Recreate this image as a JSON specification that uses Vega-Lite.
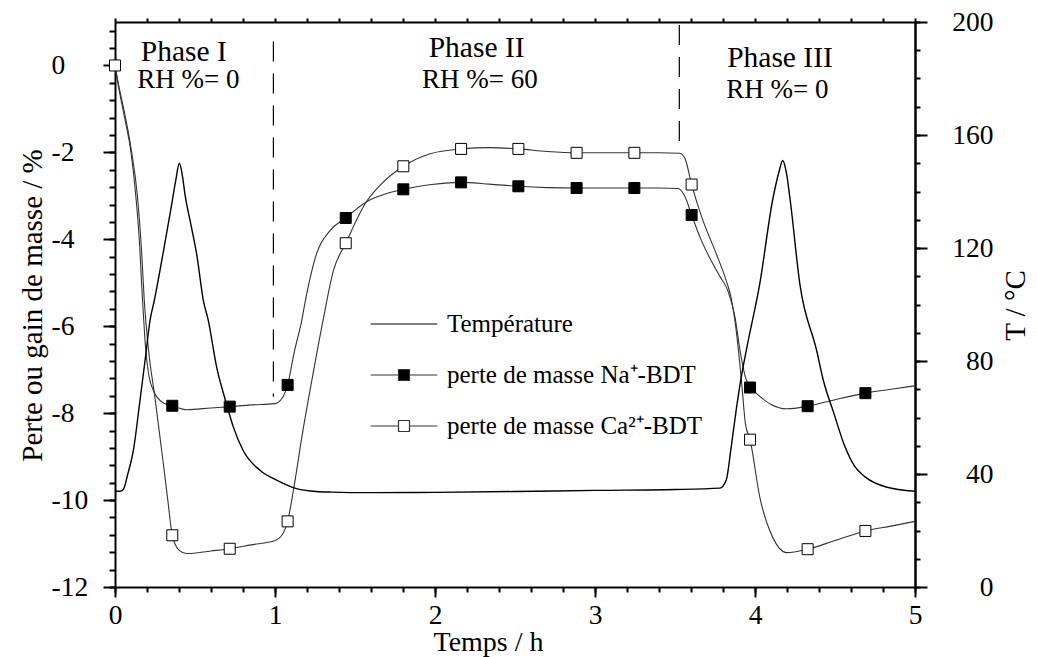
{
  "$schema": "https://vega.github.io/schema/vega-lite/v6.json",
  "width": 800,
  "height": 565,
  "autosize": "none",
  "padding": {"left": 115, "top": 22, "right": 122, "bottom": 70},
  "background": "white",
  "datasets": {
    "mass": [
      {"series":"perte de masse Na⁺-BDT","t":0,"m":0},{"series":"perte de masse Na⁺-BDT","t":0.02,"m":-0.45},{"series":"perte de masse Na⁺-BDT","t":0.06,"m":-1.2},{"series":"perte de masse Na⁺-BDT","t":0.10,"m":-2.0},{"series":"perte de masse Na⁺-BDT","t":0.13,"m":-3.0},{"series":"perte de masse Na⁺-BDT","t":0.155,"m":-4.2},{"series":"perte de masse Na⁺-BDT","t":0.166,"m":-5.0},{"series":"perte de masse Na⁺-BDT","t":0.177,"m":-5.7},{"series":"perte de masse Na⁺-BDT","t":0.19,"m":-6.45},{"series":"perte de masse Na⁺-BDT","t":0.21,"m":-7.1},{"series":"perte de masse Na⁺-BDT","t":0.24,"m":-7.48},{"series":"perte de masse Na⁺-BDT","t":0.30,"m":-7.76},{"series":"perte de masse Na⁺-BDT","t":0.358,"m":-7.83},{"series":"perte de masse Na⁺-BDT","t":0.45,"m":-7.92},{"series":"perte de masse Na⁺-BDT","t":0.6,"m":-7.88},{"series":"perte de masse Na⁺-BDT","t":0.717,"m":-7.85},{"series":"perte de masse Na⁺-BDT","t":0.85,"m":-7.81},{"series":"perte de masse Na⁺-BDT","t":1.0,"m":-7.78},{"series":"perte de masse Na⁺-BDT","t":1.04,"m":-7.68},{"series":"perte de masse Na⁺-BDT","t":1.079,"m":-7.35},{"series":"perte de masse Na⁺-BDT","t":1.12,"m":-6.6},{"series":"perte de masse Na⁺-BDT","t":1.167,"m":-5.87},{"series":"perte de masse Na⁺-BDT","t":1.19,"m":-5.41},{"series":"perte de masse Na⁺-BDT","t":1.26,"m":-4.33},{"series":"perte de masse Na⁺-BDT","t":1.344,"m":-3.8},{"series":"perte de masse Na⁺-BDT","t":1.442,"m":-3.51},{"series":"perte de masse Na⁺-BDT","t":1.57,"m":-3.14},{"series":"perte de masse Na⁺-BDT","t":1.68,"m":-2.97},{"series":"perte de masse Na⁺-BDT","t":1.802,"m":-2.85},{"series":"perte de masse Na⁺-BDT","t":1.98,"m":-2.74},{"series":"perte de masse Na⁺-BDT","t":2.163,"m":-2.69},{"series":"perte de masse Na⁺-BDT","t":2.34,"m":-2.73},{"series":"perte de masse Na⁺-BDT","t":2.521,"m":-2.78},{"series":"perte de masse Na⁺-BDT","t":2.7,"m":-2.81},{"series":"perte de masse Na⁺-BDT","t":2.885,"m":-2.82},{"series":"perte de masse Na⁺-BDT","t":3.06,"m":-2.82},{"series":"perte de masse Na⁺-BDT","t":3.246,"m":-2.82},{"series":"perte de masse Na⁺-BDT","t":3.4,"m":-2.82},{"series":"perte de masse Na⁺-BDT","t":3.52,"m":-2.83},{"series":"perte de masse Na⁺-BDT","t":3.56,"m":-3.0},{"series":"perte de masse Na⁺-BDT","t":3.604,"m":-3.44},{"series":"perte de masse Na⁺-BDT","t":3.656,"m":-3.95},{"series":"perte de masse Na⁺-BDT","t":3.72,"m":-4.45},{"series":"perte de masse Na⁺-BDT","t":3.78,"m":-4.85},{"series":"perte de masse Na⁺-BDT","t":3.83,"m":-5.18},{"series":"perte de masse Na⁺-BDT","t":3.875,"m":-5.79},{"series":"perte de masse Na⁺-BDT","t":3.906,"m":-6.55},{"series":"perte de masse Na⁺-BDT","t":3.94,"m":-7.17},{"series":"perte de masse Na⁺-BDT","t":3.969,"m":-7.41},{"series":"perte de masse Na⁺-BDT","t":4.01,"m":-7.55},{"series":"perte de masse Na⁺-BDT","t":4.1,"m":-7.8},{"series":"perte de masse Na⁺-BDT","t":4.198,"m":-7.9},{"series":"perte de masse Na⁺-BDT","t":4.329,"m":-7.84},{"series":"perte de masse Na⁺-BDT","t":4.5,"m":-7.69},{"series":"perte de masse Na⁺-BDT","t":4.69,"m":-7.54},{"series":"perte de masse Na⁺-BDT","t":4.85,"m":-7.45},{"series":"perte de masse Na⁺-BDT","t":5.0,"m":-7.37},
      {"series":"perte de masse Ca²⁺-BDT","t":0,"m":0},{"series":"perte de masse Ca²⁺-BDT","t":0.02,"m":-0.4},{"series":"perte de masse Ca²⁺-BDT","t":0.06,"m":-1.1},{"series":"perte de masse Ca²⁺-BDT","t":0.10,"m":-1.9},{"series":"perte de masse Ca²⁺-BDT","t":0.14,"m":-3.0},{"series":"perte de masse Ca²⁺-BDT","t":0.165,"m":-4.2},{"series":"perte de masse Ca²⁺-BDT","t":0.183,"m":-5.41},{"series":"perte de masse Ca²⁺-BDT","t":0.21,"m":-6.56},{"series":"perte de masse Ca²⁺-BDT","t":0.25,"m":-7.65},{"series":"perte de masse Ca²⁺-BDT","t":0.30,"m":-9.1},{"series":"perte de masse Ca²⁺-BDT","t":0.33,"m":-10.0},{"series":"perte de masse Ca²⁺-BDT","t":0.358,"m":-10.81},{"series":"perte de masse Ca²⁺-BDT","t":0.40,"m":-11.15},{"series":"perte de masse Ca²⁺-BDT","t":0.448,"m":-11.23},{"series":"perte de masse Ca²⁺-BDT","t":0.6,"m":-11.17},{"series":"perte de masse Ca²⁺-BDT","t":0.717,"m":-11.12},{"series":"perte de masse Ca²⁺-BDT","t":0.85,"m":-11.03},{"series":"perte de masse Ca²⁺-BDT","t":1.0,"m":-10.93},{"series":"perte de masse Ca²⁺-BDT","t":1.05,"m":-10.77},{"series":"perte de masse Ca²⁺-BDT","t":1.079,"m":-10.49},{"series":"perte de masse Ca²⁺-BDT","t":1.115,"m":-9.78},{"series":"perte de masse Ca²⁺-BDT","t":1.17,"m":-8.5},{"series":"perte de masse Ca²⁺-BDT","t":1.23,"m":-7.25},{"series":"perte de masse Ca²⁺-BDT","t":1.30,"m":-5.87},{"series":"perte de masse Ca²⁺-BDT","t":1.365,"m":-4.72},{"series":"perte de masse Ca²⁺-BDT","t":1.442,"m":-4.09},{"series":"perte de masse Ca²⁺-BDT","t":1.57,"m":-3.14},{"series":"perte de masse Ca²⁺-BDT","t":1.656,"m":-2.76},{"series":"perte de masse Ca²⁺-BDT","t":1.802,"m":-2.32},{"series":"perte de masse Ca²⁺-BDT","t":1.97,"m":-2.03},{"series":"perte de masse Ca²⁺-BDT","t":2.163,"m":-1.92},{"series":"perte de masse Ca²⁺-BDT","t":2.34,"m":-1.89},{"series":"perte de masse Ca²⁺-BDT","t":2.521,"m":-1.92},{"series":"perte de masse Ca²⁺-BDT","t":2.7,"m":-1.98},{"series":"perte de masse Ca²⁺-BDT","t":2.885,"m":-2.01},{"series":"perte de masse Ca²⁺-BDT","t":3.06,"m":-2.01},{"series":"perte de masse Ca²⁺-BDT","t":3.246,"m":-2.01},{"series":"perte de masse Ca²⁺-BDT","t":3.4,"m":-2.01},{"series":"perte de masse Ca²⁺-BDT","t":3.527,"m":-2.02},{"series":"perte de masse Ca²⁺-BDT","t":3.56,"m":-2.12},{"series":"perte de masse Ca²⁺-BDT","t":3.604,"m":-2.74},{"series":"perte de masse Ca²⁺-BDT","t":3.667,"m":-3.49},{"series":"perte de masse Ca²⁺-BDT","t":3.75,"m":-4.26},{"series":"perte de masse Ca²⁺-BDT","t":3.82,"m":-4.95},{"series":"perte de masse Ca²⁺-BDT","t":3.85,"m":-5.33},{"series":"perte de masse Ca²⁺-BDT","t":3.885,"m":-6.17},{"series":"perte de masse Ca²⁺-BDT","t":3.917,"m":-7.32},{"series":"perte de masse Ca²⁺-BDT","t":3.94,"m":-8.24},{"series":"perte de masse Ca²⁺-BDT","t":3.969,"m":-8.61},{"series":"perte de masse Ca²⁺-BDT","t":4.03,"m":-9.93},{"series":"perte de masse Ca²⁺-BDT","t":4.11,"m":-10.85},{"series":"perte de masse Ca²⁺-BDT","t":4.198,"m":-11.21},{"series":"perte de masse Ca²⁺-BDT","t":4.329,"m":-11.13},{"series":"perte de masse Ca²⁺-BDT","t":4.5,"m":-10.93},{"series":"perte de masse Ca²⁺-BDT","t":4.69,"m":-10.71},{"series":"perte de masse Ca²⁺-BDT","t":4.85,"m":-10.6},{"series":"perte de masse Ca²⁺-BDT","t":5.0,"m":-10.49}
    ],
    "markers": [
      {"series":"perte de masse Na⁺-BDT","t":0.358,"m":-7.83},{"series":"perte de masse Na⁺-BDT","t":0.717,"m":-7.85},{"series":"perte de masse Na⁺-BDT","t":1.079,"m":-7.35},{"series":"perte de masse Na⁺-BDT","t":1.442,"m":-3.51},{"series":"perte de masse Na⁺-BDT","t":1.802,"m":-2.85},{"series":"perte de masse Na⁺-BDT","t":2.163,"m":-2.69},{"series":"perte de masse Na⁺-BDT","t":2.521,"m":-2.78},{"series":"perte de masse Na⁺-BDT","t":2.885,"m":-2.82},{"series":"perte de masse Na⁺-BDT","t":3.246,"m":-2.82},{"series":"perte de masse Na⁺-BDT","t":3.604,"m":-3.44},{"series":"perte de masse Na⁺-BDT","t":3.969,"m":-7.41},{"series":"perte de masse Na⁺-BDT","t":4.329,"m":-7.84},{"series":"perte de masse Na⁺-BDT","t":4.69,"m":-7.54},
      {"series":"perte de masse Ca²⁺-BDT","t":0,"m":0},{"series":"perte de masse Ca²⁺-BDT","t":0.358,"m":-10.81},{"series":"perte de masse Ca²⁺-BDT","t":0.717,"m":-11.12},{"series":"perte de masse Ca²⁺-BDT","t":1.079,"m":-10.49},{"series":"perte de masse Ca²⁺-BDT","t":1.442,"m":-4.09},{"series":"perte de masse Ca²⁺-BDT","t":1.802,"m":-2.32},{"series":"perte de masse Ca²⁺-BDT","t":2.163,"m":-1.92},{"series":"perte de masse Ca²⁺-BDT","t":2.521,"m":-1.92},{"series":"perte de masse Ca²⁺-BDT","t":2.885,"m":-2.01},{"series":"perte de masse Ca²⁺-BDT","t":3.246,"m":-2.01},{"series":"perte de masse Ca²⁺-BDT","t":3.604,"m":-2.74},{"series":"perte de masse Ca²⁺-BDT","t":3.969,"m":-8.61},{"series":"perte de masse Ca²⁺-BDT","t":4.329,"m":-11.13},{"series":"perte de masse Ca²⁺-BDT","t":4.69,"m":-10.71}
    ],
    "temp": [
      {"t":0,"T":33.9},{"t":0.03,"T":33.9},{"t":0.052,"T":34.5},{"t":0.08,"T":40},{"t":0.115,"T":48.4},{"t":0.156,"T":66},{"t":0.1875,"T":80},{"t":0.219,"T":94.4},{"t":0.246,"T":101.5},{"t":0.30,"T":118},{"t":0.35,"T":134},{"t":0.38,"T":144},{"t":0.402,"T":150},{"t":0.42,"T":146},{"t":0.44,"T":138},{"t":0.469,"T":129.8},{"t":0.49,"T":123.9},{"t":0.51,"T":118},{"t":0.552,"T":101.5},{"t":0.583,"T":94.4},{"t":0.635,"T":77.9},{"t":0.69,"T":66.1},{"t":0.74,"T":56.6},{"t":0.80,"T":48.4},{"t":0.906,"T":41.3},{"t":1.01,"T":37.8},{"t":1.135,"T":34.8},{"t":1.22,"T":34.0},{"t":1.35,"T":33.6},{"t":1.6,"T":33.4},{"t":2.0,"T":33.5},{"t":2.5,"T":33.8},{"t":3.0,"T":34.2},{"t":3.5,"T":34.5},{"t":3.78,"T":35.0},{"t":3.82,"T":37.8},{"t":3.85,"T":49},{"t":3.885,"T":63.7},{"t":3.91,"T":73},{"t":3.95,"T":85},{"t":4.03,"T":107.4},{"t":4.11,"T":136.9},{"t":4.15,"T":147},{"t":4.173,"T":151},{"t":4.195,"T":147},{"t":4.22,"T":136.9},{"t":4.28,"T":107.4},{"t":4.385,"T":83.8},{"t":4.427,"T":73.2},{"t":4.49,"T":62},{"t":4.56,"T":50},{"t":4.62,"T":43},{"t":4.69,"T":38.9},{"t":4.82,"T":35.4},{"t":5.0,"T":33.9}
    ],
    "phases": [
      {"t":0.99,"m1":0.55,"m2":-7.62},
      {"t":3.527,"m1":0.93,"m2":-1.83}
    ],
    "labels": [
      {"kind":"phase","t":0.43,"m":0.11,"text":"Phase I"},
      {"kind":"rh","t":0.458,"m":-0.52,"text":"RH %= 0"},
      {"kind":"phase","t":2.26,"m":0.2,"text":"Phase II"},
      {"kind":"rh","t":2.28,"m":-0.52,"text":"RH %= 60"},
      {"kind":"phase","t":4.156,"m":-0.03,"text":"Phase III"},
      {"kind":"rh","t":4.14,"m":-0.75,"text":"RH %= 0"}
    ]
  },
  "resolve": {"scale": {"y": "independent"}, "axis": {"x": "independent", "y": "independent"}},
  "layer": [
    {
      "data": {"name": "phases"},
      "mark": {"type": "rule", "strokeDash": [20, 12], "strokeWidth": 1.2, "color": "black"},
      "encoding": {
        "x": {"field": "t", "type": "quantitative", "scale": {"domain": [0, 5], "nice": false, "zero": false},
          "axis": {"orient": "bottom", "values": [0,1,2,3,4,5], "tickSize": 10, "labelPadding": 4, "labelExpr": "datum.value + ''",
            "title": "Temps / h", "titleFontSize": 28, "titleX": 373, "titleY": 63, "titleAlign": "center", "titleBaseline": "alphabetic", "titleAnchor": null}},
        "y": {"field": "m1", "type": "quantitative", "scale": {"domain": [-12, 1], "nice": false, "zero": false},
          "axis": {"orient": "left", "values": [-12,-10,-8,-6,-4,-2,0], "tickSize": 12, "labelAlign": "left", "labelPadding": 52, "labelBaseline": "middle", "labelExpr": "datum.value + ''",
            "title": "Perte ou gain de masse / %", "titleX": -83, "titleY": 283, "titleAngle": 270, "titleAlign": "center", "titleBaseline": "middle", "titleAnchor": null}},
        "y2": {"field": "m2"}
      }
    },
    {
      "data": {"name": "mass"},
      "mark": {"type": "line", "interpolate": "monotone", "stroke": "#333333", "strokeWidth": 1.1},
      "encoding": {
        "x": {"field": "t", "type": "quantitative", "scale": {"domain": [0, 5], "nice": false, "zero": false},
          "axis": {"orient": "bottom", "values": [0,0.2,0.4,0.6,0.8,1,1.2,1.4,1.6,1.8,2,2.2,2.4,2.6,2.8,3,3.2,3.4,3.6,3.8,4,4.2,4.4,4.6,4.8,5], "tickSize": 5, "labels": false, "domain": false, "title": null}},
        "y": {"field": "m", "type": "quantitative", "scale": {"domain": [-12, 1], "nice": false, "zero": false},
          "axis": {"orient": "left", "values": [-12,-11.6,-11.2,-10.8,-10.4,-10,-9.6,-9.2,-8.8,-8.4,-8,-7.6,-7.2,-6.8,-6.4,-6,-5.6,-5.2,-4.8,-4.4,-4,-3.6,-3.2,-2.8,-2.4,-2,-1.6,-1.2,-0.8,-0.4,0,0.4,0.8], "tickSize": 6, "labels": false, "domain": false, "title": null}},
        "detail": {"field": "series", "type": "nominal"}
      }
    },
    {
      "data": {"name": "markers"},
      "transform": [{"filter": "indexof(datum.series, 'Na') >= 0"}],
      "mark": {"type": "point", "shape": "square", "size": 121, "filled": true, "fill": "black", "stroke": "black", "strokeWidth": 1, "opacity": 1},
      "encoding": {
        "x": {"field": "t", "type": "quantitative", "scale": {"domain": [0, 5], "nice": false, "zero": false},
          "axis": {"orient": "top", "values": [0,0.2,0.4,0.6,0.8,1,1.2,1.4,1.6,1.8,2,2.2,2.4,2.6,2.8,3,3.2,3.4,3.6,3.8,4,4.2,4.4,4.6,4.8,5], "tickSize": 4, "labels": false, "domain": true, "title": null}},
        "y": {"field": "m", "type": "quantitative", "scale": {"domain": [-12, 1], "nice": false, "zero": false}, "axis": null}
      }
    },
    {
      "data": {"name": "markers"},
      "transform": [{"filter": "indexof(datum.series, 'Ca') >= 0"}],
      "mark": {"type": "point", "shape": "square", "size": 121, "filled": true, "fill": "white", "stroke": "black", "strokeWidth": 1, "opacity": 1},
      "encoding": {
        "x": {"field": "t", "type": "quantitative", "scale": {"domain": [0, 5], "nice": false, "zero": false}, "axis": null},
        "y": {"field": "m", "type": "quantitative", "scale": {"domain": [-12, 1], "nice": false, "zero": false}, "axis": null}
      }
    },
    {
      "data": {"name": "temp"},
      "mark": {"type": "line", "interpolate": "monotone", "stroke": "black", "strokeWidth": 1.4},
      "encoding": {
        "x": {"field": "t", "type": "quantitative", "scale": {"domain": [0, 5], "nice": false, "zero": false}, "axis": null},
        "y": {"field": "T", "type": "quantitative", "scale": {"domain": [0, 200], "nice": false, "zero": false},
          "axis": {"orient": "right", "values": [0,40,80,120,160,200], "tickSize": 12, "labelAlign": "right", "labelPadding": 66, "labelBaseline": "middle",
            "title": "T / °C", "titleX": 100, "titleY": 283, "titleAngle": 270, "titleAlign": "center", "titleBaseline": "middle", "titleAnchor": null}}
      }
    },
    {
      "data": {"name": "mass"},
      "transform": [{"filter": "datum.t > 100"}],
      "mark": {"type": "point", "filled": true, "strokeWidth": 1.2},
      "encoding": {
        "x": {"field": "t", "type": "quantitative", "scale": {"domain": [0, 5], "nice": false, "zero": false}, "axis": null},
        "y": {"field": "m", "type": "quantitative", "scale": {"domain": [0, 200], "nice": false, "zero": false},
          "axis": {"orient": "right", "values": [0,10,20,30,40,50,60,70,80,90,100,110,120,130,140,150,160,170,180,190,200], "tickSize": 5, "labels": false, "domain": true, "title": null}},
        "shape": {"field": "series", "type": "nominal",
          "scale": {"domain": ["Température", "perte de masse Na⁺-BDT", "perte de masse Ca²⁺-BDT"],
            "range": ["M-1,0H1", "M-1,0H-0.165M0.165,0H1M-0.165,-0.165H0.165V0.165H-0.165Z", "M-1,0H-0.165M0.165,0H1M-0.165,-0.165H0.165V0.165H-0.165Z"]},
          "legend": {"title": null}},
        "fill": {"field": "series", "type": "nominal",
          "scale": {"domain": ["Température", "perte de masse Na⁺-BDT", "perte de masse Ca²⁺-BDT"], "range": ["black", "black", "white"]},
          "legend": {"title": null}},
        "stroke": {"field": "series", "type": "nominal",
          "scale": {"domain": ["Température", "perte de masse Na⁺-BDT", "perte de masse Ca²⁺-BDT"], "range": ["black", "#333333", "#333333"]},
          "legend": {"title": null}}
      }
    },
    {
      "data": {"name": "labels"},
      "transform": [{"filter": "datum.kind == 'phase'"}],
      "mark": {"type": "text", "font": "Liberation Serif", "fontSize": 29.5, "align": "center", "baseline": "alphabetic", "color": "black"},
      "encoding": {
        "x": {"field": "t", "type": "quantitative", "scale": {"domain": [0, 5], "nice": false, "zero": false}, "axis": null},
        "y": {"field": "m", "type": "quantitative", "scale": {"domain": [-12, 1], "nice": false, "zero": false}, "axis": null},
        "text": {"field": "text", "type": "nominal"}
      }
    },
    {
      "data": {"name": "labels"},
      "transform": [{"filter": "datum.kind == 'rh'"}],
      "mark": {"type": "text", "font": "Liberation Serif", "fontSize": 27, "align": "center", "baseline": "alphabetic", "color": "black"},
      "encoding": {
        "x": {"field": "t", "type": "quantitative", "scale": {"domain": [0, 5], "nice": false, "zero": false}, "axis": null},
        "y": {"field": "m", "type": "quantitative", "scale": {"domain": [-12, 1], "nice": false, "zero": false}, "axis": null},
        "text": {"field": "text", "type": "nominal"}
      }
    }
  ],
  "config": {
    "view": {"stroke": null},
    "font": "Liberation Serif",
    "axis": {"domainColor": "black", "tickColor": "black", "domainWidth": 2, "tickWidth": 2, "labelColor": "black", "titleColor": "black",
      "grid": false, "labelFont": "Liberation Serif", "titleFont": "Liberation Serif", "labelFontSize": 27.5, "titleFontSize": 29, "titleFontWeight": "normal",
      "labelOverlap": false, "labelFlush": false},
    "legend": {"orient": "none", "legendX": 255, "legendY": 279, "symbolSize": 4449, "symbolStrokeWidth": 1.2, "symbolOpacity": 1,
      "labelFont": "Liberation Serif", "labelFontSize": 25, "labelColor": "black", "labelOffset": 9, "clipHeight": 46, "rowPadding": 5, "padding": 0, "labelLimit": 500}
  }
}
